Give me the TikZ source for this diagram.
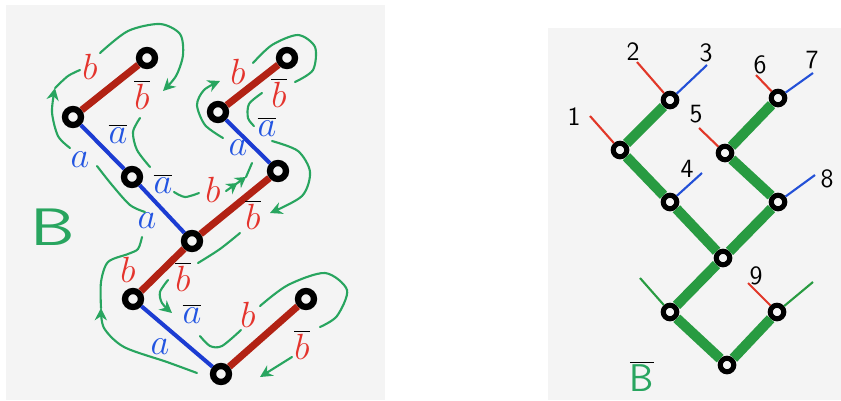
\documentclass[tikz,border=0pt]{standalone}
\usetikzlibrary{arrows.meta}
\definecolor{edgered}{RGB}{178,34,20}
\definecolor{labred}{RGB}{228,52,45}
\definecolor{edgeblue}{RGB}{28,60,210}
\definecolor{labblue}{RGB}{35,85,225}
\definecolor{pengreen}{RGB}{40,165,95}
\definecolor{treegreen}{RGB}{40,155,65}
\definecolor{stubred}{RGB}{225,55,40}
\definecolor{stubblue}{RGB}{35,80,215}
\definecolor{paper}{RGB}{244,244,244}
\newcommand{\inva}{$\overline{\textcolor{labblue}{a}}$}
\newcommand{\invb}{$\overline{\textcolor{labred}{b}}$}
\begin{document}
\begin{tikzpicture}[x=0.02cm,y=-0.02cm]
  \useasboundingbox (0,0) rectangle (841,400);
  \fill[paper] (6,5) rectangle (385,400);
  \fill[paper] (548,28) rectangle (841,400);

  \tikzstyle{node}=[circle, draw, line width=3.6pt, minimum size=0.32cm, inner sep=0pt, fill=paper]
  \tikzstyle{small}=[line width=2.9pt, minimum size=0.27cm]
  \tikzstyle{aedge}=[draw=edgeblue, line width=2.3pt]
  \tikzstyle{bedge}=[draw=edgered, line width=4pt]
  \tikzstyle{gedge}=[draw=treegreen, line width=5.8pt]
  \tikzstyle{rstub}=[draw=stubred, line width=1.2pt]
  \tikzstyle{bstub}=[draw=stubblue, line width=1.2pt]
  \tikzstyle{gstub}=[draw=treegreen, line width=1.2pt]
  \tikzstyle{walk}=[draw=pengreen, line width=1.2pt, line cap=round]
  \tikzstyle{tip}=[-{Stealth[length=7pt,width=7pt]}]
  \tikzstyle{lab}=[inner sep=0pt, font=\fontsize{21}{23}\selectfont]
  \tikzstyle{num}=[inner sep=0pt, font=\fontsize{15}{17}\sffamily]

  % left tree
  \node[node] (n1) at (73,117) {};
  \node[node] (n2) at (147,58) {};
  \node[node] (n3) at (132,177) {};
  \node[node] (n4) at (218,112) {};
  \node[node] (n5) at (287,58) {};
  \node[node] (n6) at (278,171) {};
  \node[node] (n7) at (192,241) {};
  \node[node] (n8) at (133,299) {};
  \node[node] (n9) at (306,299) {};
  \node[node] (n10) at (221,374) {};

  \path[bedge] (n1) edge (n2);
  \path[aedge] (n3) edge (n1);
  \path[aedge] (n7) edge (n3);
  \path[bedge] (n4) edge (n5);
  \path[aedge] (n6) edge (n4);
  \path[bedge] (n7) edge (n6);
  \path[bedge] (n8) edge (n7);
  \path[aedge] (n10) edge (n8);
  \path[bedge] (n10) edge (n9);

  \node[lab, text=labred] at (90,67) {$b$};
  \node[lab] at (142,95) {\invb};
  \node[lab] at (118,134) {\inva};
  \node[lab, text=labblue] at (80,160) {$a$};
  \node[lab] at (163,184) {\inva};
  \node[lab, text=labred] at (213,190) {$b$};
  \node[lab, text=labblue] at (147,221) {$a$};
  \node[lab, text=labred] at (128,270) {$b$};
  \node[lab] at (183,277) {\invb};
  \node[lab] at (192,314) {\inva};
  \node[lab, text=labblue] at (160,347) {$a$};
  \node[lab, text=labred] at (248,315) {$b$};
  \node[lab] at (302,345) {\invb};
  \node[lab, text=labred] at (238,72) {$b$};
  \node[lab] at (279,93) {\invb};
  \node[lab] at (267,127) {\inva};
  \node[lab, text=labblue] at (238,148) {$a$};
  \node[lab] at (253,215) {\invb};
  \node[inner sep=0pt, text=pengreen, xscale=1.35, font=\fontsize{30}{32}\sffamily] at (53,227) {B};

  \draw[walk, tip] plot[smooth] coordinates {(197,373) (167,362) (124,347) (104,328) (101,308)};
  \draw[walk] plot[smooth] coordinates {(101,308) (101,282) (108,262) (128,254) (138,249) (142,237)};
  \draw[walk] plot[smooth] coordinates {(145,212) (130,205) (112,185) (97,166)};
  \draw[walk, tip] plot[smooth] coordinates {(70,148) (58,136) (52,112) (55,88)};
  \draw[walk] plot[smooth] coordinates {(55,88) (68,76) (80,70)};
  \draw[walk, tip] plot[smooth] coordinates {(100,53) (128,31) (160,24) (180,34) (183,55) (176,76) (163,91)};
  \draw[walk] plot[smooth] coordinates {(140,118) (133,132) (137,150) (150,167)};
  \draw[walk] plot[smooth] coordinates {(174,192) (185,197) (199,193)};
  \draw[walk, -{Stealth[length=6pt,width=7pt]Stealth[length=6pt,width=7pt]}] (226,191) -- (246,177);
  \draw[walk] (246,177) -- (252,163);
  \draw[walk, tip] plot[smooth] coordinates {(223,138) (205,125) (197,105) (204,90) (220,81)};
  \draw[walk] plot[smooth] coordinates {(253,63) (272,45) (298,35) (315,47) (313,70) (295,82)};
  \draw[walk] plot[smooth] coordinates {(262,93) (249,104) (248,118) (254,126)};
  \draw[walk, tip] plot[smooth] coordinates {(272,141) (298,151) (310,172) (302,196) (270,213)};
  \draw[walk] plot[smooth] coordinates {(240,233) (220,249) (198,263)};
  \draw[walk, tip] plot[smooth] coordinates {(168,280) (160,292) (162,303) (172,313)};
  \draw[walk] plot[smooth] coordinates {(200,336) (210,346) (222,346) (241,330)};
  \draw[walk] plot[smooth] coordinates {(260,306) (288,285) (325,273) (347,290) (337,316) (320,327)};
  \draw[walk, tip] (292,357) -- (260,377);

  % right tree
  \node[node, small] (r1) at (620,150) {};
  \node[node, small] (r2) at (670,100) {};
  \node[node, small] (r3) at (670,202) {};
  \node[node, small] (r4) at (725,153) {};
  \node[node, small] (r5) at (778,98) {};
  \node[node, small] (r6) at (778,202) {};
  \node[node, small] (r7) at (723,258) {};
  \node[node, small] (r8) at (670,312) {};
  \node[node, small] (r9) at (777,312) {};
  \node[node, small] (r10) at (727,365) {};

  \path[gedge] (r1) edge (r2);
  \path[gedge] (r1) edge (r3);
  \path[gedge] (r3) edge (r7);
  \path[gedge] (r4) edge (r5);
  \path[gedge] (r4) edge (r6);
  \path[gedge] (r6) edge (r7);
  \path[gedge] (r7) edge (r8);
  \path[gedge] (r8) edge (r10);
  \path[gedge] (r10) edge (r9);

  \coordinate (s1) at (590,116);
  \coordinate (s2) at (637,62);
  \coordinate (s3) at (707,65);
  \coordinate (s4) at (702,173);
  \coordinate (s5) at (699,128);
  \coordinate (s6) at (756,75);
  \coordinate (s7) at (813,73);
  \coordinate (s8) at (815,175);
  \coordinate (s9) at (748,283);
  \coordinate (sl) at (640,278);
  \coordinate (sr) at (813,282);

  \path[rstub] (r1) edge (s1);
  \path[rstub] (r2) edge (s2);
  \path[bstub] (r2) edge (s3);
  \path[bstub] (r3) edge (s4);
  \path[rstub] (r4) edge (s5);
  \path[rstub] (r5) edge (s6);
  \path[bstub] (r5) edge (s7);
  \path[bstub] (r6) edge (s8);
  \path[rstub] (r9) edge (s9);
  \path[gstub] (r8) edge (sl);
  \path[gstub] (r9) edge (sr);

  \node[num] at (574,117) {1};
  \node[num] at (633,52) {2};
  \node[num] at (706,53) {3};
  \node[num] at (687,169) {4};
  \node[num] at (696,114) {5};
  \node[num] at (760,65) {6};
  \node[num] at (812,60) {7};
  \node[num] at (827,179) {8};
  \node[num] at (756,276) {9};
  \node[inner sep=0pt, font=\fontsize{22}{24}\selectfont] at (642,376) {$\overline{\textcolor{pengreen}{\textsf{B}}}$};
\end{tikzpicture}
\end{document}
